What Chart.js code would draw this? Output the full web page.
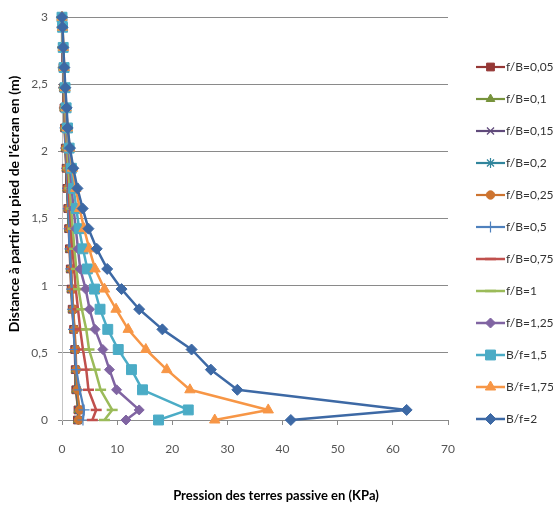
<!DOCTYPE html>
<html lang="fr">
<head>
<meta charset="UTF-8" />
<title>Pression des terres passive</title>
<script src="https://cdn.jsdelivr.net/npm/chart.js"></script>
<style>
  html, body { margin: 0; padding: 0; background: #fff; }
  #wrap { width: 553px; height: 506px; }
</style>
</head>
<body>
<div id="wrap"><canvas id="chart" width="553" height="506"></canvas></div>
<script>
  // profondeur des points (m), commune à toutes les courbes
  const depth = [0, 0.075, 0.225, 0.375, 0.525, 0.675, 0.825, 0.975, 1.125, 1.275, 1.425,
                 1.575, 1.725, 1.875, 2.025, 2.175, 2.325, 2.475, 2.625, 2.775, 2.925, 3];

  // pression passive (KPa)
  const fB_005 = [2.8, 2.9, 2.5, 2.4, 2.3, 2.1, 1.85, 1.65, 1.5, 1.35, 1.2, 1.05, 0.9, 0.75, 0.6, 0.47, 0.36, 0.26, 0.18, 0.1, 0.05, 0];
  const fB_01  = [2.85, 2.95, 2.55, 2.45, 2.35, 2.15, 1.9, 1.7, 1.55, 1.4, 1.25, 1.1, 0.93, 0.78, 0.62, 0.49, 0.37, 0.27, 0.19, 0.11, 0.05, 0];
  const fB_015 = [2.9, 3.05, 2.6, 2.5, 2.4, 2.2, 1.95, 1.75, 1.6, 1.45, 1.3, 1.13, 0.96, 0.8, 0.64, 0.5, 0.38, 0.28, 0.2, 0.12, 0.05, 0];
  const fB_02  = [2.95, 3.1, 2.7, 2.55, 2.45, 2.25, 2.0, 1.8, 1.65, 1.5, 1.33, 1.16, 0.99, 0.83, 0.66, 0.52, 0.4, 0.3, 0.21, 0.12, 0.06, 0];
  const fB_025 = [3.0, 3.2, 2.75, 2.6, 2.5, 2.3, 2.05, 1.85, 1.7, 1.55, 1.37, 1.2, 1.02, 0.86, 0.69, 0.54, 0.42, 0.31, 0.22, 0.13, 0.06, 0];
  const fB_05  = [3.8, 4.0, 3.2, 2.6, 2.3, 2.1, 1.9, 1.75, 1.6, 1.45, 1.3, 1.15, 1.0, 0.85, 0.7, 0.56, 0.43, 0.32, 0.22, 0.13, 0.06, 0];
  const fB_075 = [5.5, 6.2, 4.8, 4.4, 3.8, 3.3, 2.9, 2.5, 2.2, 1.9, 1.65, 1.4, 1.2, 1.0, 0.8, 0.65, 0.5, 0.38, 0.26, 0.15, 0.06, 0];
  const fB_1   = [7.7, 9.1, 7.0, 6.0, 4.9, 4.4, 3.6, 3.0, 2.6, 2.25, 1.95, 1.65, 1.4, 1.15, 0.95, 0.75, 0.58, 0.43, 0.3, 0.18, 0.07, 0];
  const fB_125 = [11.6, 14.0, 9.9, 8.6, 7.4, 6.0, 5.0, 4.3, 3.3, 2.9, 2.5, 2.1, 1.75, 1.45, 1.15, 0.9, 0.7, 0.5, 0.35, 0.2, 0.08, 0];
  const Bf_15  = [17.5, 22.9, 14.6, 12.6, 10.2, 8.3, 6.9, 5.9, 4.6, 3.8, 3.1, 2.6, 2.1, 1.7, 1.3, 1.0, 0.75, 0.55, 0.38, 0.22, 0.1, 0];
  const Bf_175 = [27.7, 37.4, 23.2, 19.0, 15.2, 12.0, 9.8, 7.7, 6.0, 4.95, 4.0, 3.2, 2.5, 1.9, 1.4, 1.0, 0.75, 0.55, 0.4, 0.25, 0.1, 0];
  const Bf_2   = [41.5, 62.5, 31.8, 27.0, 23.5, 18.2, 14.0, 10.8, 8.2, 6.3, 4.8, 3.75, 2.8, 2.05, 1.45, 1.03, 0.85, 0.6, 0.42, 0.24, 0.1, 0];

  const seriesNames = ['f/B=0,05', 'f/B=0,1', 'f/B=0,15', 'f/B=0,2', 'f/B=0,25', 'f/B=0,5',
                       'f/B=0,75', 'f/B=1', 'f/B=1,25', 'B/f=1,5', 'B/f=1,75', 'B/f=2'];
  const seriesValues = [fB_005, fB_01, fB_015, fB_02, fB_025, fB_05, fB_075, fB_1, fB_125, Bf_15, Bf_175, Bf_2];

  const xTicks = { min: 0, max: 70, step: 10 };
  const yTicks = { min: 0, max: 3, step: 0.5 };

  const xTitle = 'Pression des terres passive en (KPa)';
  const yTitle = "Distance à partir du pied de l'écran en (m)";

  // style Excel : couleur, marqueur, taille
  const looks = [
    { color: '#953735', point: 'rect',      r: 5.5, bw: 1,   lw: 2.2 },
    { color: '#77933C', point: 'triangle',  r: 5,   bw: 1,   lw: 2.2 },
    { color: '#604A7B', point: 'crossRot',  r: 5,   bw: 1.2, lw: 2.2 },
    { color: '#31859C', point: 'star',      r: 5,   bw: 1.2, lw: 2.2 },
    { color: '#CD7430', point: 'circle',    r: 4.2, bw: 1,   lw: 2.2 },
    { color: '#4F81BD', point: 'cross',     r: 5.5, bw: 1.2, lw: 2.2 },
    { color: '#C0504D', point: 'line',      r: 5.5, bw: 2.5, lw: 2.5 },
    { color: '#9BBB59', point: 'line',      r: 5.5, bw: 2.5, lw: 2.5 },
    { color: '#8064A2', point: 'rectRot',   r: 5,   bw: 1,   lw: 2.5 },
    { color: '#4BACC6', point: 'rect',      r: 7,   bw: 1,   lw: 2.5 },
    { color: '#F79646', point: 'triangle',  r: 6,   bw: 1,   lw: 2.5 },
    { color: '#3D69A5', point: 'rectRot',   r: 5.5, bw: 1,   lw: 2.5 }
  ];

  const datasets = seriesNames.map((name, i) => ({
    label: name,
    data: seriesValues[i].map((v, k) => ({ x: v, y: depth[k] })),
    showLine: true,
    tension: 0,
    clip: false,
    borderColor: looks[i].color,
    backgroundColor: looks[i].color,
    borderWidth: looks[i].lw,
    borderJoinStyle: 'round',
    pointStyle: looks[i].point,
    pointRadius: looks[i].r,
    pointBorderWidth: looks[i].bw,
    pointBackgroundColor: looks[i].color,
    pointBorderColor: looks[i].color,
    order: seriesNames.length - i   // la dernière série passe au-dessus, comme dans Excel
  }));

  // titres d'axes + légende dessinés à la main (ligne + marqueur comme Excel)
  const excelBits = {
    id: 'excelBits',
    afterDraw(chart) {
      const ctx = chart.ctx;

      ctx.save();
      ctx.fillStyle = '#000';
      ctx.textAlign = 'center';
      ctx.textBaseline = 'middle';
      ctx.font = 'bold 14px Lato';
      ctx.translate(14, 204);
      ctx.rotate(-Math.PI / 2);
      ctx.fillText(yTitle, 0, 0);
      ctx.restore();

      ctx.save();
      ctx.fillStyle = '#000';
      ctx.textAlign = 'center';
      ctx.textBaseline = 'middle';
      ctx.font = 'bold 13px Lato';
      ctx.fillText(xTitle, 276, 496);
      ctx.restore();

      ctx.save();
      chart.data.datasets.forEach((ds, i) => {
        const y = 67 + i * 32;
        ctx.strokeStyle = ds.borderColor;
        ctx.lineWidth = ds.borderWidth;
        ctx.beginPath();
        ctx.moveTo(476, y);
        ctx.lineTo(505, y);
        ctx.stroke();
        ctx.fillStyle = ds.pointBackgroundColor;
        ctx.strokeStyle = ds.pointBorderColor;
        ctx.lineWidth = ds.pointBorderWidth;
        if (Chart.helpers && Chart.helpers.drawPoint) {
          Chart.helpers.drawPoint(ctx, {
            pointStyle: ds.pointStyle, radius: ds.pointRadius,
            borderWidth: ds.pointBorderWidth, rotation: 0
          }, 490.5, y);
        }
        ctx.fillStyle = '#333';
        ctx.font = '12px Lato';
        ctx.textAlign = 'left';
        ctx.textBaseline = 'middle';
        ctx.fillText(ds.label, 506, y);
      });
      ctx.restore();
    }
  };

  new Chart(document.getElementById('chart'), {
    type: 'scatter',
    data: { datasets },
    plugins: [excelBits],
    options: {
      responsive: false,
      animation: false,
      layout: { padding: { left: 0, right: 105, top: 16, bottom: 0 } },
      plugins: { legend: { display: false }, tooltip: { enabled: false } },
      scales: {
        x: {
          type: 'linear',
          min: xTicks.min, max: xTicks.max,
          afterFit: (s) => { s.height = 86; },
          ticks: { stepSize: xTicks.step, padding: 17, color: '#555', font: { family: 'Lato', size: 12 } },
          grid: { drawOnChartArea: false, drawTicks: true, tickLength: 5, color: '#8a8a8a' },
          border: { color: '#8a8a8a' }
        },
        y: {
          type: 'linear',
          min: yTicks.min, max: yTicks.max,
          afterFit: (s) => { s.width = 62; },
          ticks: {
            stepSize: yTicks.step, padding: 10, color: '#555', font: { family: 'Lato', size: 12 },
            callback: (v) => String(v).replace('.', ',')
          },
          grid: { color: '#8a8a8a', tickLength: 4 },
          border: { color: '#c4c4c4' }
        }
      }
    }
  });
</script>
</body>
</html>
